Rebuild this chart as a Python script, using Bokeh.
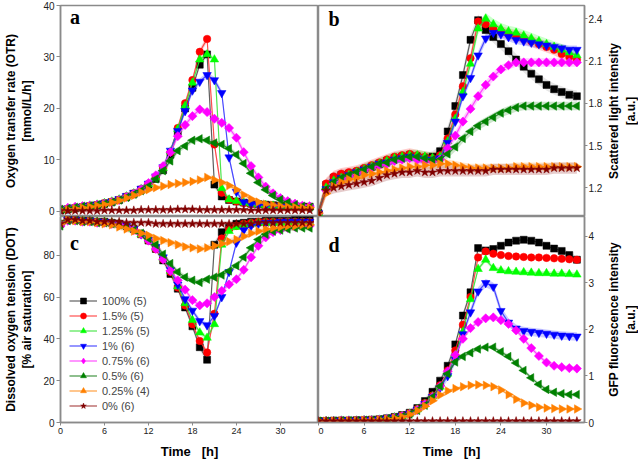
import math
from bokeh.plotting import figure
from bokeh.layouts import gridplot
from bokeh.models import Range1d, FixedTicker, Label, Legend, LegendItem
from bokeh.embed import file_html
from bokeh.resources import INLINE

# ---------------- data ----------------
TIME = list(range(35))  # h

SERIES = ["100% (5)", "1.5% (5)", "1.25% (5)", "1% (6)", "0.75% (6)", "0.5% (6)", "0.25% (4)", "0% (6)"]

# Panel a: oxygen transfer rate [mmol/L/h]
OTR_100 = [0.2, 0.4, 0.6, 0.8, 1.0, 1.2, 1.5, 1.8, 2.2, 2.8, 3.4, 4.2, 5.1, 6.3, 8.0, 11.0, 15.5, 20.0, 24.0, 28.5, 30.5, 5.2, 2.9, 2.2, 1.9, 1.7, 1.5, 1.4, 1.3, 1.2, 1.1, 1.0, 1.0, 0.9, 0.9]
OTR_15 = [0.3, 0.5, 0.7, 0.9, 1.1, 1.3, 1.6, 1.9, 2.3, 2.9, 3.5, 4.3, 5.3, 6.6, 8.4, 11.5, 16.2, 21.0, 25.5, 31.0, 33.5, 13.0, 3.6, 2.3, 1.9, 1.6, 1.4, 1.3, 1.2, 1.1, 1.0, 0.9, 0.9, 0.8, 0.8]
OTR_125 = [0.3, 0.5, 0.7, 0.9, 1.1, 1.3, 1.6, 1.9, 2.3, 2.9, 3.5, 4.3, 5.3, 6.6, 8.4, 11.6, 16.0, 20.5, 25.0, 29.5, 30.5, 29.5, 4.5, 2.3, 2.0, 1.7, 1.5, 1.3, 1.2, 1.1, 1.0, 0.9, 0.9, 0.8, 0.8]
OTR_1 = [0.3, 0.5, 0.7, 0.9, 1.1, 1.3, 1.6, 1.9, 2.4, 3.0, 3.6, 4.4, 5.4, 6.8, 8.6, 11.8, 15.6, 19.5, 23.5, 25.2, 26.5, 25.5, 23.0, 10.5, 3.8, 1.8, 1.4, 1.2, 1.1, 1.0, 0.9, 0.9, 0.8, 0.8, 0.7]
OTR_075 = [0.5, 0.7, 0.9, 1.0, 1.1, 1.3, 1.5, 1.8, 2.2, 2.8, 3.4, 4.3, 5.5, 7.0, 8.8, 11.5, 14.6, 16.8, 18.5, 19.8, 19.3, 18.0, 17.2, 16.2, 14.3, 11.5, 8.8, 6.6, 4.8, 3.5, 2.6, 2.0, 1.5, 1.1, 1.0]
OTR_05 = [0.4, 0.6, 0.8, 1.0, 1.1, 1.3, 1.5, 1.8, 2.2, 2.7, 3.3, 4.0, 4.9, 6.3, 7.9, 9.8, 11.8, 12.7, 13.8, 14.1, 13.8, 13.3, 13.0, 12.2, 11.0, 9.3, 7.4, 5.6, 4.2, 3.1, 2.3, 1.7, 1.3, 1.0, 0.8]
OTR_025 = [0.2, 0.3, 0.5, 0.7, 0.9, 1.1, 1.3, 1.7, 2.1, 2.6, 3.1, 3.7, 4.2, 4.6, 4.9, 5.2, 5.4, 5.6, 5.8, 6.1, 6.6, 6.1, 5.6, 5.0, 4.2, 3.2, 2.4, 1.8, 1.4, 1.2, 1.0, 0.9, 0.8, 0.7, 0.7]
OTR_0 = [0.1, 0.1, 0.1, 0.1, 0.1, 0.1, 0.2, 0.2, 0.2, 0.2, 0.2, 0.3, 0.3, 0.3, 0.3, 0.3, 0.4, 0.4, 0.4, 0.3, 0.3, 0.3, 0.3, 0.3, 0.3, 0.3, 0.2, 0.2, 0.2, 0.2, 0.2, 0.2, 0.2, 0.2, 0.2]

# Panel b: scattered light intensity [a.u.]
SL_100 = [1.02, 1.22, 1.27, 1.29, 1.30, 1.31, 1.33, 1.35, 1.37, 1.39, 1.41, 1.42, 1.43, 1.42, 1.41, 1.42, 1.46, 1.60, 1.78, 2.00, 2.25, 2.39, 2.32, 2.27, 2.22, 2.17, 2.11, 2.06, 2.01, 1.97, 1.93, 1.90, 1.88, 1.86, 1.85]
SL_15 = [1.02, 1.23, 1.28, 1.30, 1.31, 1.32, 1.34, 1.36, 1.38, 1.40, 1.42, 1.43, 1.44, 1.43, 1.42, 1.41, 1.43, 1.55, 1.72, 1.92, 2.12, 2.38, 2.36, 2.33, 2.31, 2.29, 2.28, 2.26, 2.24, 2.22, 2.20, 2.18, 2.15, 2.13, 2.11]
SL_125 = [1.02, 1.20, 1.25, 1.27, 1.29, 1.31, 1.33, 1.35, 1.37, 1.39, 1.41, 1.42, 1.43, 1.43, 1.42, 1.41, 1.42, 1.53, 1.69, 1.88, 2.08, 2.33, 2.40, 2.36, 2.33, 2.31, 2.30, 2.28, 2.26, 2.24, 2.22, 2.20, 2.18, 2.16, 2.14]
SL_1 = [1.02, 1.19, 1.24, 1.27, 1.29, 1.31, 1.33, 1.35, 1.37, 1.38, 1.40, 1.41, 1.42, 1.41, 1.40, 1.40, 1.41, 1.52, 1.67, 1.85, 1.98, 2.14, 2.26, 2.30, 2.29, 2.27, 2.25, 2.24, 2.23, 2.22, 2.21, 2.20, 2.19, 2.18, 2.18]
SL_075 = [1.02, 1.18, 1.23, 1.26, 1.28, 1.30, 1.32, 1.34, 1.36, 1.37, 1.39, 1.40, 1.41, 1.40, 1.39, 1.39, 1.40, 1.48, 1.57, 1.67, 1.76, 1.85, 1.93, 1.99, 2.04, 2.07, 2.09, 2.09, 2.09, 2.09, 2.09, 2.09, 2.09, 2.09, 2.09]
SL_05 = [1.02, 1.19, 1.24, 1.27, 1.29, 1.31, 1.33, 1.35, 1.37, 1.38, 1.40, 1.41, 1.42, 1.42, 1.41, 1.40, 1.40, 1.44, 1.49, 1.55, 1.60, 1.64, 1.67, 1.70, 1.73, 1.75, 1.77, 1.78, 1.78, 1.78, 1.78, 1.78, 1.78, 1.78, 1.78]
SL_025 = [1.02, 1.16, 1.21, 1.24, 1.26, 1.27, 1.29, 1.30, 1.31, 1.32, 1.33, 1.34, 1.35, 1.35, 1.36, 1.36, 1.37, 1.37, 1.36, 1.35, 1.34, 1.34, 1.34, 1.34, 1.34, 1.34, 1.35, 1.35, 1.35, 1.35, 1.35, 1.35, 1.35, 1.35, 1.35]
SL_0 = [1.02, 1.18, 1.20, 1.21, 1.22, 1.23, 1.24, 1.25, 1.27, 1.29, 1.30, 1.31, 1.31, 1.32, 1.31, 1.31, 1.32, 1.32, 1.32, 1.32, 1.32, 1.32, 1.32, 1.33, 1.33, 1.33, 1.33, 1.33, 1.33, 1.33, 1.33, 1.34, 1.34, 1.34, 1.34]

# Panel c: dissolved oxygen tension [% air saturation]
DOT_100 = [95, 97, 97, 96.5, 96.5, 96, 96, 95.5, 95, 94, 92.5, 90, 87, 83, 77.5, 71, 64, 55, 46, 36, 30, 85, 91, 93.5, 95, 95.5, 96, 96, 96.5, 96.5, 96.5, 96.5, 97, 97, 97]
DOT_15 = [95, 97, 97, 96.5, 96.5, 96, 96, 95.5, 95, 94, 92.5, 90, 87, 83, 78, 72, 64.5, 56, 47, 39, 33.5, 52, 88, 92.5, 94, 95, 95.5, 96, 96, 96, 96, 96, 96, 96, 96]
DOT_125 = [95, 97, 97, 96.5, 96.5, 96, 96, 95.5, 95, 94, 92.5, 90, 87.5, 83.5, 78.5, 72.5, 65, 57, 49, 43, 40.5, 47, 85, 91.5, 93.5, 94.5, 95, 95.5, 95.5, 95.5, 95.5, 95.5, 95.5, 95.5, 95.5]
DOT_1 = [95, 97, 97, 96.5, 96.5, 96, 96, 95.5, 95, 94, 92.5, 90, 87.5, 84, 79, 73, 66, 59, 53.5, 48.5, 46.5, 51, 60, 72, 86, 92, 94, 95, 95.5, 95.5, 96, 96, 96, 96, 96]
DOT_075 = [94, 96.5, 96.5, 96, 96, 95.5, 95.5, 95, 94.5, 93.5, 92, 90, 87, 83, 78, 72.5, 68, 63.5, 58.5, 56, 57, 60, 63, 66, 68.5, 73, 79, 84.5, 88.5, 91, 92, 93, 93.5, 94, 94]
DOT_05 = [94, 96.5, 96.5, 96, 96, 95.5, 95.5, 95, 94.5, 93.5, 92, 90.5, 88, 85, 80.5, 76, 72, 69.5, 68, 67, 68.5, 69.5, 70.5, 72.5, 75, 79, 83.5, 87.5, 90, 91.5, 92, 92.5, 93, 93, 93]
DOT_025 = [95, 97, 96.5, 96, 96, 95.5, 95, 94.5, 93.5, 92.5, 91.5, 90.5, 89.5, 88, 87, 86, 85, 84, 83.5, 83, 83.5, 84.5, 85.5, 86.5, 87.5, 89, 90.5, 91.5, 92.5, 93, 93.5, 94, 94, 94.5, 94.5]
DOT_0 = [95, 97, 97, 96.5, 96.5, 96, 96, 96, 96, 95.5, 95.5, 95.5, 95.5, 95, 95, 95, 95, 95, 95, 95, 95, 95, 95, 95, 95, 95, 95, 95.5, 95.5, 95.5, 95.5, 95.5, 95.5, 95.5, 95.5]

# Panel d: GFP fluorescence intensity [a.u.]
GFP_100 = [0.03, 0.03, 0.04, 0.04, 0.04, 0.05, 0.05, 0.06, 0.07, 0.09, 0.12, 0.16, 0.21, 0.31, 0.46, 0.66, 0.90, 1.22, 1.68, 2.30, 2.80, 3.75, 3.70, 3.73, 3.80, 3.87, 3.91, 3.93, 3.91, 3.87, 3.80, 3.74, 3.69, 3.60, 3.50]
GFP_15 = [0.03, 0.03, 0.03, 0.04, 0.04, 0.04, 0.05, 0.05, 0.06, 0.08, 0.11, 0.15, 0.20, 0.29, 0.42, 0.58, 0.80, 1.12, 1.55, 2.10, 2.70, 3.55, 3.68, 3.63, 3.60, 3.58, 3.57, 3.56, 3.55, 3.55, 3.54, 3.53, 3.52, 3.51, 3.50]
GFP_125 = [0.03, 0.03, 0.03, 0.04, 0.04, 0.04, 0.05, 0.05, 0.06, 0.08, 0.11, 0.14, 0.19, 0.28, 0.40, 0.56, 0.77, 1.05, 1.45, 1.95, 2.65, 3.30, 3.50, 3.32, 3.27, 3.25, 3.24, 3.23, 3.22, 3.21, 3.21, 3.20, 3.20, 3.19, 3.18]
GFP_1 = [0.03, 0.03, 0.03, 0.04, 0.04, 0.04, 0.05, 0.05, 0.06, 0.08, 0.11, 0.14, 0.19, 0.28, 0.40, 0.55, 0.75, 1.00, 1.35, 1.90, 2.37, 2.82, 3.00, 2.92, 2.40, 2.15, 2.02, 1.97, 1.95, 1.93, 1.91, 1.89, 1.87, 1.86, 1.85]
GFP_075 = [0.03, 0.03, 0.03, 0.04, 0.04, 0.04, 0.05, 0.05, 0.06, 0.08, 0.10, 0.14, 0.18, 0.27, 0.39, 0.55, 0.78, 1.10, 1.45, 1.80, 2.03, 2.16, 2.24, 2.26, 2.20, 2.12, 1.98, 1.80, 1.60, 1.43, 1.29, 1.22, 1.19, 1.17, 1.16]
GFP_05 = [0.03, 0.03, 0.03, 0.04, 0.04, 0.04, 0.05, 0.05, 0.06, 0.08, 0.10, 0.13, 0.18, 0.26, 0.37, 0.55, 0.78, 1.05, 1.30, 1.42, 1.50, 1.58, 1.62, 1.62, 1.52, 1.42, 1.28, 1.12, 0.96, 0.82, 0.71, 0.65, 0.62, 0.60, 0.60]
GFP_025 = [0.03, 0.03, 0.03, 0.04, 0.04, 0.04, 0.05, 0.05, 0.06, 0.07, 0.09, 0.12, 0.17, 0.25, 0.35, 0.47, 0.59, 0.68, 0.73, 0.77, 0.80, 0.81, 0.80, 0.77, 0.70, 0.60, 0.50, 0.42, 0.37, 0.33, 0.31, 0.30, 0.29, 0.29, 0.29]
GFP_0 = [0.03] * 35

# standard deviation (half-width of shaded band) per series and panel
ERR_OTR = [0.6, 0.6, 0.5, 0.6, 0.6, 0.5, 0.4, 0.3]
ERR_SL = [0.04, 0.04, 0.04, 0.03, 0.03, 0.03, 0.03, 0.04]
ERR_DOT = [1.5, 1.2, 1.2, 1.2, 1.2, 1.2, 1.5, 1.2]
ERR_GFP = [0.07, 0.03, 0.05, 0.09, 0.05, 0.04, 0.03, 0.01]

# ---------------- style ----------------
MARK_COLORS = ["#000000", "#ff0000", "#00ff00", "#0000ff", "#ff00ff", "#008000", "#ff8000", "#800000"]
LINE_COLORS = ["#444444", "#ff3030", "#30e030", "#3030ff", "#ff30ff", "#208020", "#ff9020", "#a03030"]
MARKERS = [("square", 0.0, 7), ("circle", 0.0, 7.5), ("triangle", 0.0, 8.5), ("inverted_triangle", 0.0, 8.5),
           ("square", math.pi / 4, 6.5), ("triangle", math.pi / 2, 8.5), ("triangle", -math.pi / 2, 8.5),
           ("star", 0.0, 9)]
LEGEND_MARKERS = ["square", "circle", "triangle", "inverted_triangle", "diamond", "triangle", "triangle", "star"]

SANS = "Liberation Sans"
SERIF = "Liberation Serif"
GRAY = "#8a8a8a"

X_TICKS = [0, 6, 12, 18, 24, 30]
TOP_H, BOT_H = 216, 249
TOP_B, BOT_B = 5, 43
LEFT_W, MID_W, TITLE_W = 318, 290, 30


def style_axis_title(ax, text):
    ax.axis_label = text
    ax.axis_label_text_font = SANS
    ax.axis_label_text_font_style = "bold"
    ax.axis_label_text_font_size = "12px"
    ax.axis_label_text_color = "#000000"


def make_panel(series, errs, yr, yticks, ylabel, side, bottom, letter, letter_drop, width, xmax):
    height = BOT_H if bottom else TOP_H
    p = figure(width=width, height=height, output_backend="svg", toolbar_location=None,
               x_range=Range1d(0, xmax), y_range=Range1d(*yr),
               x_axis_location="below" if bottom else None,
               y_axis_location=side)
    p.min_border_left = 53 if side == "left" else 0
    p.min_border_right = 24 if side == "right" else 0
    p.min_border_top = 0 if bottom else TOP_B
    p.min_border_bottom = BOT_B if bottom else 0
    p.grid.visible = False
    p.outline_line_color = GRAY
    p.outline_line_width = 1.5
    p.background_fill_color = "white"
    p.border_fill_color = "white"

    ax = p.yaxis[0]
    ax.ticker = FixedTicker(ticks=yticks)
    if ylabel:
        style_axis_title(ax, ylabel)
        ax.axis_label_standoff = 6
    ax.major_label_text_font = SANS
    ax.major_label_text_font_size = "10px"
    ax.major_label_text_color = "#222222"
    ax.major_label_standoff = 2 if side == "left" else 1
    ax.axis_line_color = GRAY
    ax.axis_line_width = 1.5
    ax.major_tick_line_color = GRAY
    ax.major_tick_out = 4 if side == "left" else 3
    ax.major_tick_in = 0
    ax.minor_tick_line_color = None

    if bottom:
        bx = p.xaxis[0]
        bx.ticker = FixedTicker(ticks=X_TICKS)
        bx.axis_label = "Time\u00a0\u00a0\u00a0[h]"
        bx.axis_label_text_font = SANS
        bx.axis_label_text_font_style = "bold"
        bx.axis_label_text_font_size = "13px"
        bx.axis_label_text_color = "#000000"
        bx.axis_label_standoff = 7
        bx.major_label_text_font = SANS
        bx.major_label_text_font_size = "9px"
        bx.major_label_text_color = "#222222"
        bx.major_label_standoff = 2
        bx.axis_line_color = GRAY
        bx.axis_line_width = 1.5
        bx.major_tick_line_color = GRAY
        bx.major_tick_out = 3
        bx.major_tick_in = 0
        bx.minor_tick_line_color = None

    items = []
    for i, ys in enumerate(series):
        lo = [y - errs[i] for y in ys]
        hi = [y + errs[i] for y in ys]
        p.varea(x=TIME, y1=lo, y2=hi, fill_color=MARK_COLORS[i] if i else "#808080", fill_alpha=0.2)
    for i, ys in enumerate(series):
        mk, ang, sz = MARKERS[i]
        ln = p.line(TIME, ys, line_color=LINE_COLORS[i], line_width=1.2, line_alpha=0.85)
        sc = p.scatter(TIME, ys, marker=mk, angle=ang, size=sz, fill_color=MARK_COLORS[i],
                       line_color=MARK_COLORS[i], line_width=0.5)
        rend = [ln, sc]
        if LEGEND_MARKERS[i] != mk:
            # swatch-only glyph for the legend (a single NaN row, never drawn in the plot)
            lg = p.scatter(x=[float("nan")], y=[float("nan")], marker=LEGEND_MARKERS[i],
                           fill_color=MARK_COLORS[i], line_color=MARK_COLORS[i], line_width=0.5)
            rend = [ln, lg]
        items.append(LegendItem(label=SERIES[i], renderers=rend))

    span = yr[1] - yr[0]
    p.add_layout(Label(x=1.3, y=yr[1] - letter_drop * span, x_units="data", y_units="data",
                       text=letter, text_font=SERIF, text_font_style="bold",
                       text_font_size="20px", text_baseline="top", text_color="#000000"))
    return p, items


def title_column(text, bottom):
    # narrow companion column that carries the right-hand axis title, read bottom-to-top
    height = BOT_H if bottom else TOP_H
    f = figure(width=TITLE_W, height=height, output_backend="svg", toolbar_location=None,
               x_range=Range1d(0, 1), y_range=Range1d(0, 1),
               x_axis_location=None, y_axis_location="left")
    f.min_border_left = TITLE_W - 1
    f.min_border_right = 0
    f.min_border_top = 0 if bottom else TOP_B
    f.min_border_bottom = BOT_B if bottom else 0
    f.outline_line_color = None
    f.grid.visible = False
    f.background_fill_color = "white"
    f.border_fill_color = "white"
    ax = f.yaxis[0]
    ax.ticker = FixedTicker(ticks=[])
    ax.axis_line_color = None
    ax.major_tick_line_color = None
    ax.minor_tick_line_color = None
    ax.major_label_text_font_size = "0px"
    ax.major_label_standoff = 0
    ax.major_tick_out = 0
    style_axis_title(ax, text)
    ax.axis_label_standoff = 1
    return f


pa, _ = make_panel([OTR_100, OTR_15, OTR_125, OTR_1, OTR_075, OTR_05, OTR_025, OTR_0], ERR_OTR,
                   (-1.0, 40), [0, 10, 20, 30, 40], "Oxygen transfer rate (OTR)\n[mmol/L/h]",
                   "left", False, "a", 0.0, LEFT_W, 35.2)
pb, _ = make_panel([SL_100, SL_15, SL_125, SL_1, SL_075, SL_05, SL_025, SL_0], ERR_SL,
                   (0.996, 2.494), [1.2, 1.5, 1.8, 2.1, 2.4], None,
                   "right", False, "b", 0.01, MID_W, 35.0)
pc, items = make_panel([DOT_100, DOT_15, DOT_125, DOT_1, DOT_075, DOT_05, DOT_025, DOT_0], ERR_DOT,
                       (0, 98.5), [0, 20, 40, 60, 80], "Dissolved oxygen tension (DOT)\n[% air saturation]",
                       "left", True, "c", 0.075, LEFT_W, 35.2)
pd_, _ = make_panel([GFP_100, GFP_15, GFP_125, GFP_1, GFP_075, GFP_05, GFP_025, GFP_0], ERR_GFP,
                    (0, 4.43), [0, 1, 2, 3, 4], None,
                    "right", True, "d", 0.085, MID_W, 35.0)
tb = title_column("Scattered light intensity\n[a.u.]", False)
td = title_column("GFP fluorescence intensity\n[a.u.]", True)

legend = Legend(items=items, location=(9, 9))
legend.background_fill_alpha = 0
legend.border_line_alpha = 0
legend.label_text_font = SANS
legend.label_text_font_size = "11px"
legend.glyph_width = 28
legend.glyph_height = 15
legend.label_height = 15
legend.spacing = 0
legend.padding = 0
legend.margin = 0
legend.label_standoff = 5
pc.add_layout(legend)

grid = gridplot([[pa, pb, tb], [pc, pd_, td]], toolbar_location=None)

open("out.html", "w").write(file_html(grid, INLINE))
